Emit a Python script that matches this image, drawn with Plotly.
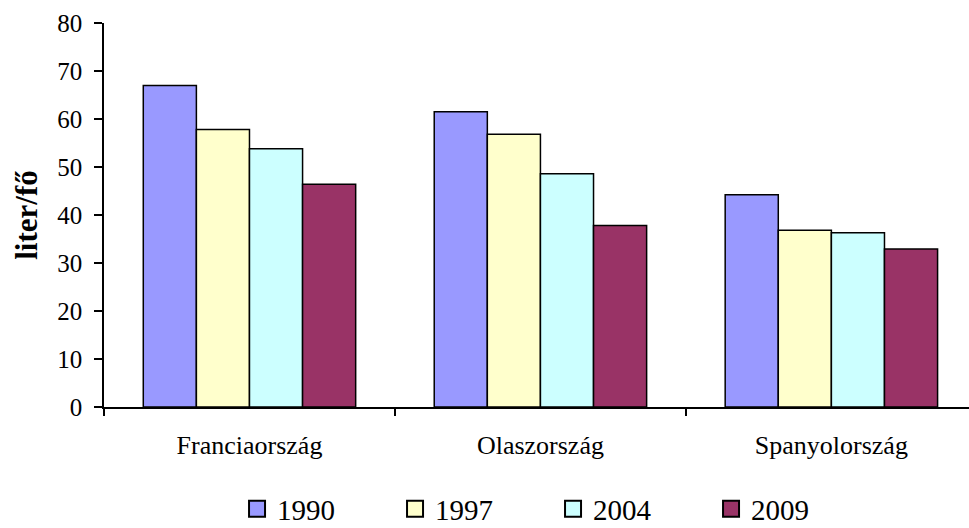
import plotly.graph_objects as go

countries = ["Franciaország", "Olaszország", "Spanyolország"]
years = ["1990", "1997", "2004", "2009"]
v1990 = [67.0, 61.5, 44.2]
v1997 = [57.8, 56.8, 36.8]
v2004 = [53.8, 48.6, 36.3]
v2009 = [46.4, 37.8, 32.9]
colors = ["#9999FF", "#FFFFCC", "#CCFFFF", "#993366"]

series = [v1990, v1997, v2004, v2009]
FONT = "Liberation Serif"

fig = go.Figure()
for name, vals, col in zip(years, series, colors):
    fig.add_trace(go.Bar(
        x=countries, y=vals, name=name, showlegend=False,
        marker=dict(color=col, line=dict(color="black", width=1.5)),
    ))

# legend entries with larger square swatches
for name, col in zip(years, colors):
    fig.add_trace(go.Scatter(
        x=[None], y=[None], mode="markers", name=name,
        marker=dict(symbol="square", size=16, color=col,
                    line=dict(color="black", width=2)),
    ))

fig.update_layout(
    width=969, height=528,
    margin=dict(l=104, r=0, t=23, b=121),
    paper_bgcolor="white", plot_bgcolor="white",
    barmode="group", bargap=0.27, bargroupgap=0,
    font=dict(family=FONT, color="black"),
    showlegend=True,
    legend=dict(
        orientation="h", x=0.1538, y=0.036, xanchor="left", yanchor="middle",
        yref="container",
        font=dict(size=29, family=FONT), entrywidth=113, entrywidthmode="pixels",
        itemsizing="trace",
    ),
    xaxis=dict(
        showline=True, linecolor="black", linewidth=1.5,
        ticks="outside", tickson="boundaries", ticklen=7, tickwidth=1.5,
        tickcolor="black", tickfont=dict(size=26, family=FONT),
        ticklabelstandoff=14, showgrid=False, range=[-0.5, 2.473],
    ),
    yaxis=dict(
        range=[0, 80], dtick=10, showline=True, linecolor="black", linewidth=1.5,
        ticks="outside", ticklen=8, tickwidth=1.5, tickcolor="black",
        tickfont=dict(size=25, family=FONT), ticklabelstandoff=7,
        showgrid=False, zeroline=False,
        title=dict(text="<b>liter/fő</b>", font=dict(size=31, family=FONT), standoff=10),
    ),
)

fig.write_html("out.html")
